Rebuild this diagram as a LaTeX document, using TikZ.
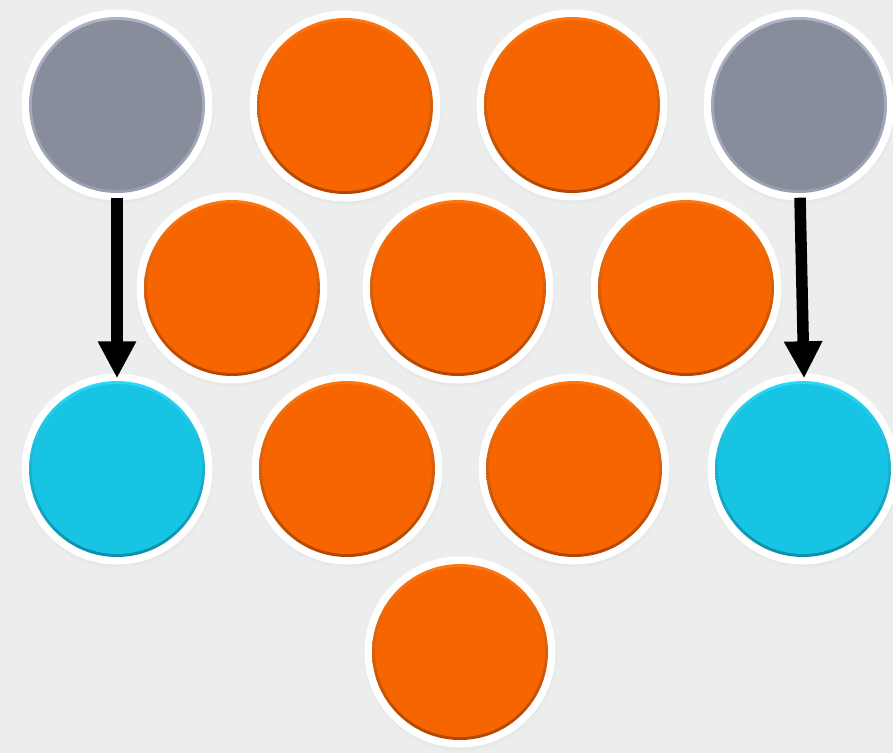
\documentclass[tikz,border=0pt]{standalone}
\usetikzlibrary{arrows.meta,shadows,calc}
\definecolor{bg}{HTML}{ECEEED}
\definecolor{orM}{HTML}{F76500}
\definecolor{orL}{HTML}{FF7A12}
\definecolor{orD}{HTML}{B04300}
\definecolor{grM}{HTML}{878D9B}
\definecolor{grL}{HTML}{AEB3C6}
\definecolor{grD}{HTML}{989EB2}
\definecolor{cyM}{HTML}{18C4E4}
\definecolor{cyL}{HTML}{2CDCFA}
\definecolor{cyD}{HTML}{0A8AA6}
\tikzset{
  ball/.style args={#1/#2/#3}{circle, minimum size=191pt, inner sep=0pt, fill=white,
    circular drop shadow={shadow xshift=0pt, shadow yshift=-2pt, opacity=0.22, shadow scale=1.02},
    path picture={
      \path[even odd rule, top color=#2, bottom color=#3]
        (path picture bounding box.center) circle (88pt) circle (83pt);
      \fill[#1] (path picture bounding box.center) circle (85pt);
    }},
  orange/.style={ball=orM/orL/orD},
  grey/.style={ball=grM/grL/grD},
  cyan/.style={ball=cyM/cyL/cyD},
  bigarrow/.style={line width=11.5pt, -{Triangle[length=37pt,width=36pt]}},
}
\begin{document}
\begin{tikzpicture}[x=1pt,y=-1pt]
  \fill[bg] (0,0) rectangle (893,753);
  \useasboundingbox (0,0) rectangle (893,753);
  % row 1
  \node[grey]   (g1) at (117,105) {};
  \node[orange] (o1) at (345,106) {};
  \node[orange] (o2) at (572,105) {};
  \node[grey]   (g2) at (799,105) {};
  % row 2
  \node[orange] (o3) at (232,288) {};
  \node[orange] (o4) at (458,288) {};
  \node[orange] (o5) at (686,288) {};
  % row 3
  \node[cyan]   (c1) at (117,469) {};
  \node[orange] (o6) at (347,469) {};
  \node[orange] (o7) at (574,469) {};
  \node[cyan]   (c2) at (803,469) {};
  % row 4
  \node[orange] (o8) at (460,652) {};
  % arrows
  \draw[bigarrow] ($(g1.south)+(0,-3)$) -- ($(c1.north)+(0,5)$);
  \draw[bigarrow] ($(g2.south)+(1,-3)$) -- ($(c2.north)+(1,5)$);
\end{tikzpicture}
\end{document}
